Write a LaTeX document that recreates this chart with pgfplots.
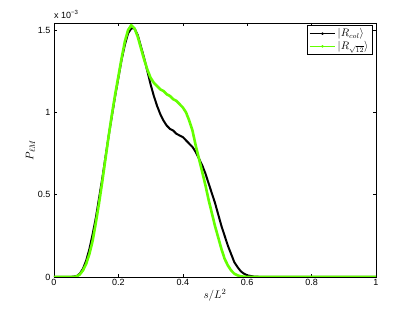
\documentclass[border=0pt]{standalone}
\usepackage{pgfplots}
\pgfplotsset{compat=1.18}
\usepackage{fontspec}
\setmainfont{Liberation Sans}
\definecolor{mgreen}{RGB}{100,255,0}
\begin{document}
\begin{tikzpicture}
\path[use as bounding box] (-54pt,-36pt) rectangle (361pt,277pt);
\begin{axis}[
  at={(0pt,0pt)}, anchor=south west,
  scale only axis, width=322pt, height=254pt,
  xmin=0, xmax=1, ymin=0, ymax=1.543,
  xtick={0,0.2,0.4,0.6,0.8,1},
  xticklabels={0,0.2,0.4,0.6,0.8,1},
  ytick={0,0.5,1,1.5},
  yticklabels={0,0.5,1,1.5},
  tick align=inside,
  major tick length=3pt,
  tick style={black, line width=0.4pt},
  axis line style={line width=0.5pt},
  tick label style={font=\fontsize{9}{10}\selectfont},
  xticklabel style={yshift=1pt},
  /pgf/number format/assume math mode=true,
  xlabel={$s/L^2$},
  ylabel={$P_{\ell M}$},
  xlabel style={font=\fontsize{11}{12}\selectfont, yshift=3pt},
  ylabel style={font=\fontsize{11}{12}\selectfont, yshift=-4pt},
  legend style={at={(0.988,0.992)}, anchor=north east, draw=black, line width=0.5pt,
    font=\fontsize{10.5}{11}\selectfont, inner sep=1.5pt, row sep=-1pt, cells={anchor=west}},
  legend image code/.code={\draw[#1, line width=1pt, mark repeat=2, mark phase=2, mark=*, mark size=0.8pt] plot coordinates {(0cm,0cm) (0.45cm,0cm) (0.9cm,0cm)};},
  clip mode=individual,
]
\addplot[black, line width=2pt, line join=round] coordinates {
(0,0) (0.05,0) (0.07,0.005) (0.08,0.02) (0.09,0.05) (0.10,0.10) (0.11,0.17) (0.12,0.26)
(0.13,0.36) (0.14,0.48) (0.15,0.60) (0.16,0.73) (0.17,0.86) (0.18,0.98) (0.19,1.10)
(0.20,1.21) (0.21,1.32) (0.22,1.41) (0.23,1.48) (0.24,1.51) (0.25,1.51) (0.26,1.47)
(0.27,1.40) (0.28,1.33) (0.29,1.25) (0.30,1.17) (0.31,1.10) (0.32,1.04) (0.33,0.99)
(0.34,0.95) (0.35,0.92) (0.36,0.90) (0.37,0.89) (0.38,0.87) (0.39,0.86) (0.40,0.85)
(0.41,0.83) (0.42,0.81) (0.43,0.79) (0.44,0.76) (0.45,0.72) (0.46,0.68) (0.47,0.63)
(0.48,0.57) (0.49,0.51) (0.50,0.45) (0.51,0.38) (0.52,0.31) (0.53,0.25) (0.54,0.19)
(0.55,0.14) (0.56,0.09) (0.57,0.06) (0.58,0.035) (0.59,0.02) (0.60,0.01) (0.62,0.003)
(0.65,0) (1,0)
};
\addlegendentry{$|R_{col}\rangle$}
\addplot[mgreen, line width=2.6pt, line join=round] coordinates {
(0,0) (0.06,0) (0.07,0.003) (0.08,0.015) (0.09,0.04) (0.10,0.08) (0.11,0.14) (0.12,0.22)
(0.13,0.33) (0.14,0.45) (0.15,0.58) (0.16,0.72) (0.17,0.86) (0.18,0.99) (0.19,1.11)
(0.20,1.22) (0.21,1.33) (0.22,1.43) (0.23,1.50) (0.24,1.53) (0.25,1.51) (0.26,1.46)
(0.27,1.39) (0.28,1.32) (0.29,1.26) (0.30,1.21) (0.31,1.18) (0.32,1.16) (0.33,1.14)
(0.34,1.13) (0.35,1.11) (0.36,1.10) (0.37,1.08) (0.38,1.07) (0.39,1.05) (0.40,1.03)
(0.41,1.00) (0.42,0.95) (0.43,0.89) (0.44,0.80) (0.45,0.72) (0.46,0.64) (0.47,0.56)
(0.48,0.47) (0.49,0.39) (0.50,0.31) (0.51,0.24) (0.52,0.17) (0.53,0.11) (0.54,0.07)
(0.55,0.04) (0.56,0.02) (0.57,0.01) (0.58,0.004) (0.60,0) (1,0)
};
\addlegendentry{$|R_{\sqrt{12}}\rangle$}
\node[anchor=south west, inner sep=0pt, font=\fontsize{9}{10}\selectfont] at (rel axis cs:0,1) [yshift=4pt] {x 10\textsuperscript{−3}};
\end{axis}
\end{tikzpicture}
\end{document}
